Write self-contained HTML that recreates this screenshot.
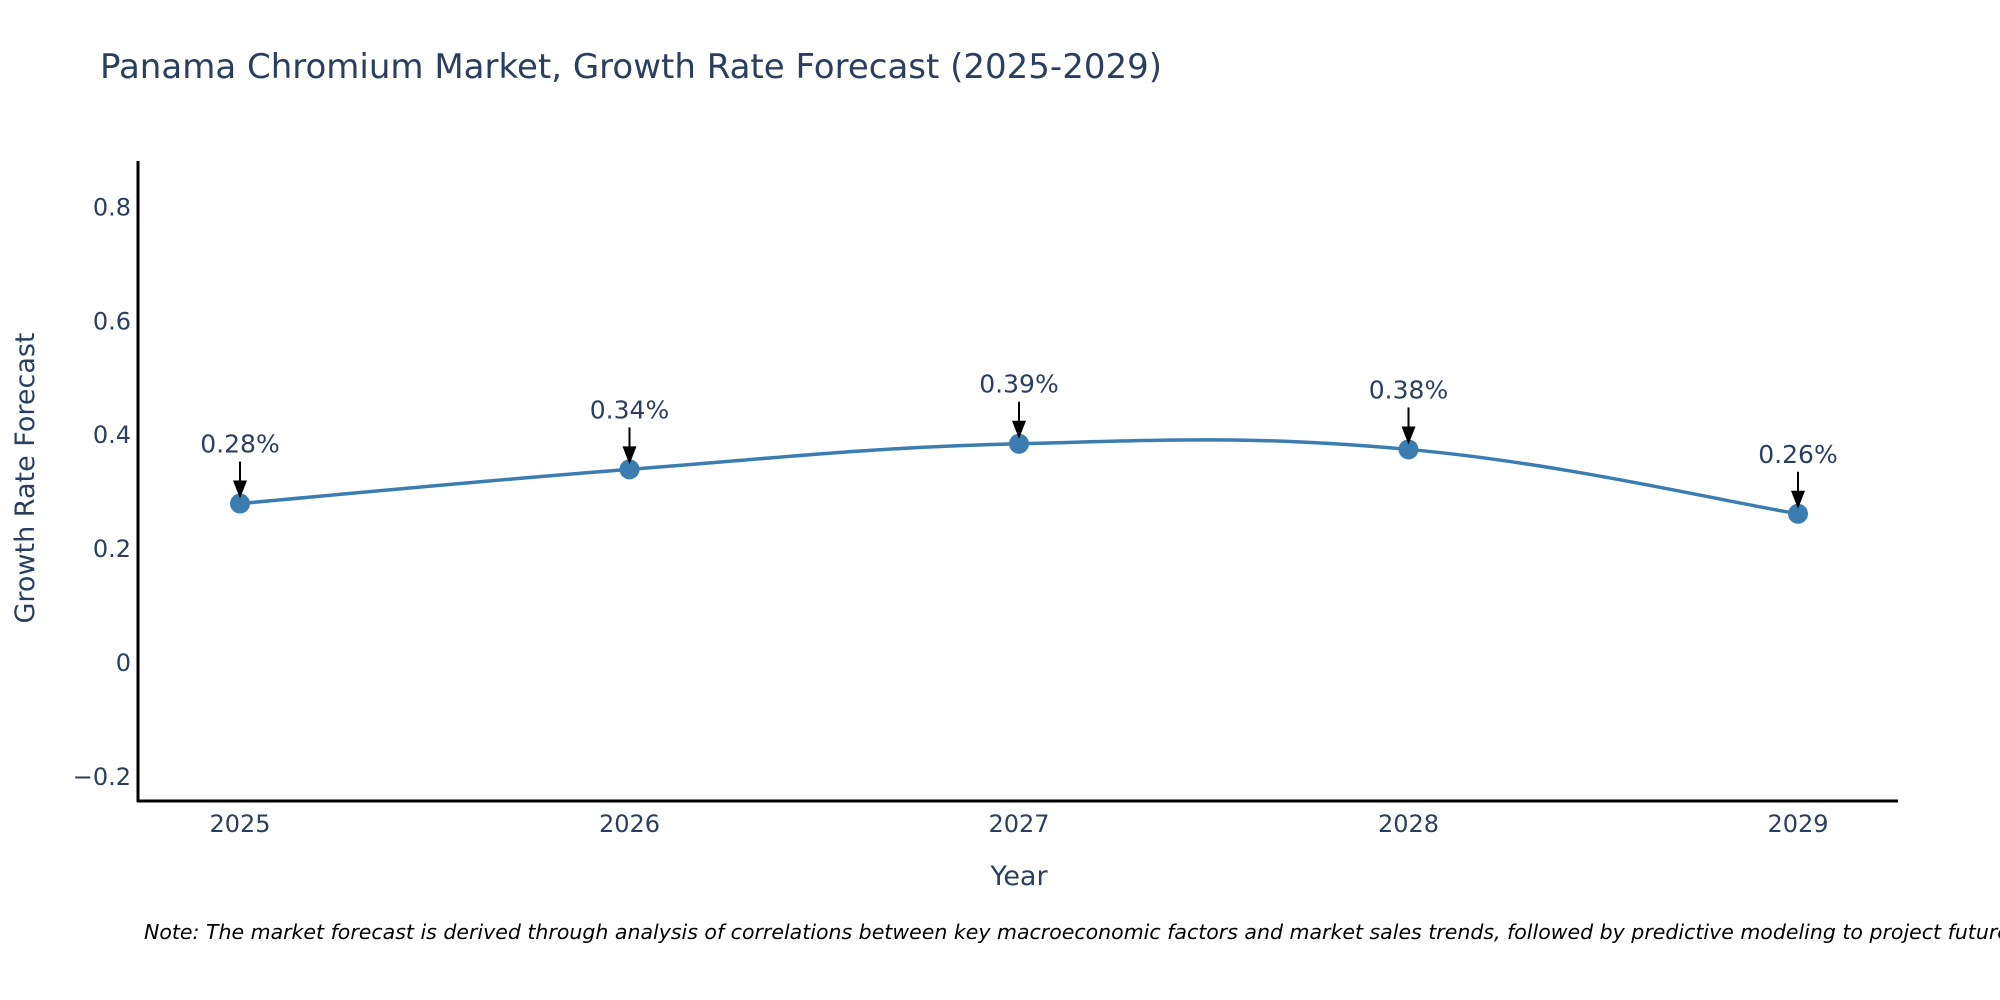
<!DOCTYPE html>
<html><head><meta charset="utf-8"><style>
html,body{margin:0;padding:0;background:#fff;overflow:hidden;}
svg{display:block;font-family:"DejaVu Sans","Liberation Sans",sans-serif;}
</style></head><body>
<svg id="chart" width="2000" height="1000" viewBox="0 0 2000 1000" xmlns="http://www.w3.org/2000/svg">
<text x="100" y="78" font-size="34" fill="#2a3f5f">Panama Chromium Market, Growth Rate Forecast (2025-2029)</text>
<g id="yticks"></g>
<g id="xticks"></g>
<line x1="138" y1="161" x2="138" y2="802" stroke="#000" stroke-width="3"/>
<line x1="137" y1="801" x2="1898" y2="801" stroke="#000" stroke-width="3"/>
<text transform="translate(34,478) rotate(-90)" text-anchor="middle" font-size="27" fill="#2a3f5f">Growth Rate Forecast</text>
<text x="1019" y="885" text-anchor="middle" font-size="27" fill="#2a3f5f">Year</text>
<g id="series"></g>
<g id="annots"></g>
<text x="144" y="939" font-size="20.5" font-style="italic" fill="#000">Note: The market forecast is derived through analysis of correlations between key macroeconomic factors and market sales trends, followed by predictive modeling to project future sales.</text>
</svg>
<script>
const years = [2025, 2026, 2027, 2028, 2029];
const values = [0.28, 0.34, 0.385, 0.375, 0.262];
const valueLabels = ["0.28%", "0.34%", "0.39%", "0.38%", "0.26%"];
const yTickValues = [-0.2, 0, 0.2, 0.4, 0.6, 0.8];
const yTickLabels = ["\u22120.2", "0", "0.2", "0.4", "0.6", "0.8"];

const NS = "http://www.w3.org/2000/svg";
function xScale(yr){ return 240 + (yr - 2025) * 389.5; }
function yScale(v){ return 663 - v * 569.5; }
function mk(tag, attrs, parent){
  const e = document.createElementNS(NS, tag);
  for (const k in attrs) e.setAttribute(k, attrs[k]);
  parent.appendChild(e); return e;
}
const yt = document.getElementById('yticks');
yTickValues.forEach((v,i)=>{
  const t = mk('text',{x:131,y:yScale(v)+8,'text-anchor':'end','font-size':24,fill:'#2a3f5f'},yt);
  
  
  t.textContent = yTickLabels[i];
});
const xt = document.getElementById('xticks');
years.forEach(yr=>{
  const t = mk('text',{x:xScale(yr),y:832,'text-anchor':'middle','font-size':24,fill:'#2a3f5f'},xt);
  
  
  t.textContent = yr;
});
const pts = years.map((yr,i)=>[xScale(yr), yScale(values[i])]);
let d = 'M' + pts[0][0] + ',' + pts[0][1];
const s = 0.2;
for (let i=0;i<pts.length-1;i++){
  const p0 = pts[Math.max(i-1,0)], p1 = pts[i], p2 = pts[i+1], p3 = pts[Math.min(i+2,pts.length-1)];
  const c1 = [p1[0]+(p2[0]-p0[0])*s, p1[1]+(p2[1]-p0[1])*s];
  const c2 = [p2[0]-(p3[0]-p1[0])*s, p2[1]-(p3[1]-p1[1])*s];
  d += ' C'+c1[0]+','+c1[1]+' '+c2[0]+','+c2[1]+' '+p2[0]+','+p2[1];
}
const ser = document.getElementById('series');
const line = mk('path',{d:d,fill:'none',stroke:'#3b7db1','stroke-width':3.5},ser);


const an = document.getElementById('annots');
pts.forEach((p,i)=>{
  const c = mk('circle',{cx:p[0],cy:p[1],r:10,fill:'#3b7db1'},ser);
  
  
  const l = mk('line',{x1:p[0],y1:p[1]-42,x2:p[0],y2:p[1]-20,stroke:'#000','stroke-width':2},an);
  
  
  const h = mk('path',{d:'M'+(p[0]-7)+','+(p[1]-23)+' L'+(p[0]+7)+','+(p[1]-23)+' L'+p[0]+','+(p[1]-5)+' Z',fill:'#000'},an);
  
  
  const t = mk('text',{x:p[0],y:p[1]-51,'text-anchor':'middle','font-size':25,fill:'#2a3f5f'},an);
  
  
  t.textContent = valueLabels[i];
});
</script>
</body></html>
